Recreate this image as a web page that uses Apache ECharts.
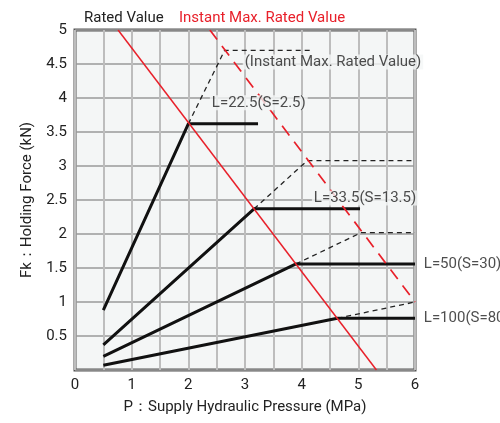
<!DOCTYPE html>
<html><head><meta charset="utf-8">
<script src="https://cdn.jsdelivr.net/npm/echarts@6/dist/echarts.min.js"></script>
<style>html,body{margin:0;padding:0;background:#fff}#c{width:500px;height:423px}</style>
</head><body><div id="c"></div>
<script>
// Data (P in MPa, Fk in kN)
const xTicks = [0,1,2,3,4,5,6];
const yTicks = [0.5,1,1.5,2,2.5,3,3.5,4,4.5,5];
const l22Solid = [[0.5,0.88],[2.0,3.62],[3.23,3.62]];
const l22Dash  = [[2.0,3.62],[2.64,4.7],[4.2,4.7]];
const l33Solid = [[0.5,0.37],[3.16,2.37],[5.03,2.37]];
const l33Dash  = [[3.16,2.37],[4.1,3.08],[6,3.08]];
const l50Solid = [[0.5,0.2],[3.9,1.56],[6,1.56]];
const l50Dash  = [[3.9,1.56],[5.05,2.02],[6,2.02]];
const l100Solid = [[0.5,0.07],[4.63,0.76],[6,0.76]];
const l100Dash  = [[4.63,0.76],[6,1.0]];
const ratedLimit = [[0.76,5],[5.32,0]];
const instantLimit = [[2.38,5],[6,1.0]];
const labelTexts = ['L=22.5(S=2.5)','(Instant Max. Rated Value)','L=33.5(S=13.5)','L=50(S=30)','L=100(S=80)'];
const labelAnchors = [[2.38,3.93],[2.96,4.53],[4.18,2.53],[6.12,1.56],[6.12,0.76]];

const FONT = 'Roboto';
const BG = '#f4f6f6';
const chart = echarts.init(document.getElementById('c'), null, {renderer:'canvas'});
function solid(d){return {type:'line',data:d,symbol:'none',lineStyle:{color:'#111',width:3},z:5,animation:false};}
function dash(d){return {type:'line',data:d,symbol:'none',lineStyle:{color:'#222',width:1.3,type:[5,4]},z:4,animation:false};}
chart.setOption({
  animation:false,
  textStyle:{fontFamily:FONT},
  title:[
    {text:'Rated Value',left:79,top:6,textStyle:{fontFamily:FONT,fontSize:15,fontWeight:'normal',color:'#222'}},
    {text:'Instant Max. Rated Value',left:174,top:6,textStyle:{fontFamily:FONT,fontSize:15,fontWeight:'normal',color:'#e8202a'}}
  ],
  grid:{left:75,right:85,top:30,bottom:53,show:true,backgroundColor:BG,borderColor:'#555',borderWidth:3,containLabel:false},
  xAxis:{type:'value',min:0,max:6,interval:0.5,
    name:'P：Supply Hydraulic Pressure (MPa)',nameLocation:'middle',nameGap:30,
    nameTextStyle:{fontFamily:FONT,fontSize:15,color:'#222'},
    axisLine:{show:false},axisTick:{show:false},
    axisLabel:{fontFamily:FONT,fontSize:15,color:'#222',margin:8,
      formatter:v=>xTicks.indexOf(Math.round(v*1000)/1000)>=0?String(Math.round(v)):''},
    splitLine:{show:true,lineStyle:{color:'#bdbdbd',width:2}}},
  yAxis:{type:'value',min:0,max:5,interval:0.5,
    name:'Fk：Holding Force (kN)',nameLocation:'middle',nameGap:40,
    nameTextStyle:{fontFamily:FONT,fontSize:15,color:'#222'},
    axisLine:{show:false},axisTick:{show:false},
    axisLabel:{fontFamily:FONT,fontSize:15,color:'#222',margin:8,
      formatter:v=>{const r=Math.round(v*1000)/1000;return yTicks.indexOf(r)>=0?String(r):'';}},
    splitLine:{show:true,lineStyle:{color:'#9a9a9a',width:1.5}}},
  series:[
    dash(l22Dash),dash(l33Dash),dash(l50Dash),dash(l100Dash),
    solid(l22Solid),solid(l33Solid),solid(l50Solid),solid(l100Solid),
    {type:'line',data:ratedLimit,symbol:'none',lineStyle:{color:'#e8202a',width:1.5},z:6},
    {type:'line',data:instantLimit,symbol:'none',lineStyle:{color:'#e8202a',width:1.7,type:[12,8]},z:6},
    {type:'scatter',symbolSize:0,z:7,clip:false,silent:true,
      data:labelAnchors.map((a,i)=>({value:a,label:{formatter:labelTexts[i],
        backgroundColor:i<3?BG:'transparent'}})),
      label:{show:true,position:'right',distance:0,fontFamily:FONT,fontSize:15,color:'#222',padding:[0,2]}}
  ]
});
</script></body></html>
